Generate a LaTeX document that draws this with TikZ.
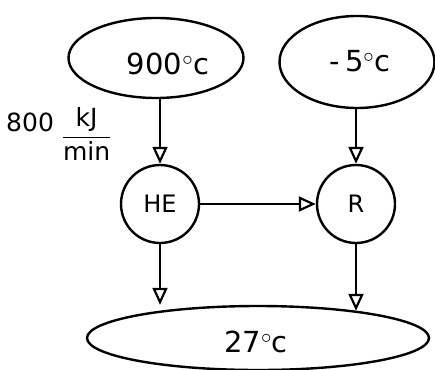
\documentclass[tikz,border=0pt]{standalone}
\usepackage{fontspec}
\setmainfont{DejaVu Sans}
\usetikzlibrary{shapes.geometric,arrows.meta}
\begin{document}
\begin{tikzpicture}[x=1pt,y=-1pt,
  blob/.style={draw,ellipse,line width=2.4pt,inner sep=0pt},
  unit/.style={draw,circle,line width=2.4pt,minimum size=78pt,inner sep=0pt,font=\fontsize{24}{24}\selectfont},
  flow/.style={line width=2.2pt,-{Triangle[open,length=17pt,width=15pt]}},
  lbl/.style={font=\fontsize{29}{29}\selectfont}]
\useasboundingbox (0,0) rectangle (435,369);
\node[blob,minimum width=175pt,minimum height=80pt] (hot) at (156,58) {};
\node[lbl] at (168,64) {900$^\circ$c};
\node[blob,minimum width=155pt,minimum height=92pt] (cold) at (357,62) {};
\node[lbl] at (360,61) {-\,5$^\circ$c};
\node[unit] (he) at (160,204) {HE};
\node[unit] (r) at (356,204) {R};
\node[blob,minimum width=342pt,minimum height=64pt] (amb) at (258,338) {};
\node[lbl] at (256,342) {27$^\circ$c};
\node[font=\fontsize{25}{25}\selectfont,anchor=west,inner sep=0pt] (rate) at (6,134) {\raisebox{12pt}{800} $\displaystyle\frac{\textrm{kJ}}{\textrm{min}}$};
\draw[flow] (hot.south -| he.north) -- (he.north);
\draw[flow] (cold.south -| r.north) -- (r.north);
\draw[flow] (he.east) -- (r.west);
\draw[flow] (he.south) -- (he.south |- amb.north);
\draw[flow] (r.south) -- ([yshift=-6pt]r.south |- amb.north);
\end{tikzpicture}
\end{document}
